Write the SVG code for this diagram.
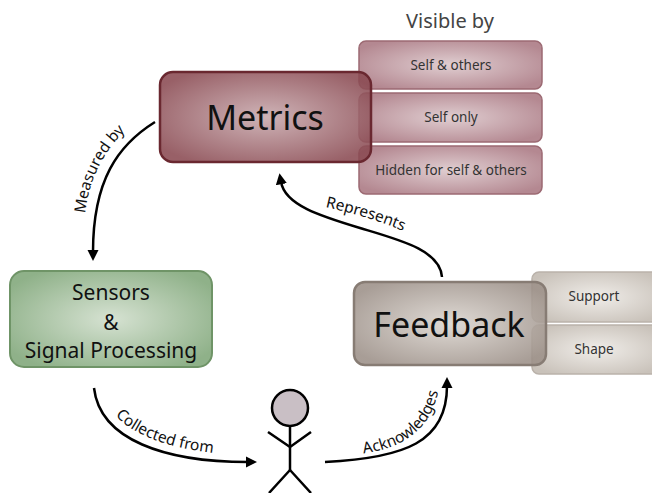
<svg xmlns="http://www.w3.org/2000/svg" width="652" height="493" viewBox="0 0 652 493">
<defs>
<radialGradient id="gM" cx="50%" cy="50%" r="60%"><stop offset="0" stop-color="#c8a9ad"/><stop offset="1" stop-color="#8a4a52"/></radialGradient>
<radialGradient id="gV" cx="50%" cy="50%" r="60%"><stop offset="0" stop-color="#e0ced1"/><stop offset="1" stop-color="#b48891"/></radialGradient>
<radialGradient id="gS" cx="50%" cy="50%" r="60%"><stop offset="0" stop-color="#d6e2d2"/><stop offset="1" stop-color="#8fb189"/></radialGradient>
<radialGradient id="gF" cx="50%" cy="50%" r="60%"><stop offset="0" stop-color="#dbd5cf"/><stop offset="1" stop-color="#9c9088"/></radialGradient>
<radialGradient id="gP" cx="50%" cy="50%" r="60%"><stop offset="0" stop-color="#f0ede9"/><stop offset="1" stop-color="#c9c2ba"/></radialGradient>
<marker id="ah" viewBox="0 0 10 10" refX="2" refY="5" markerWidth="4.5" markerHeight="4.5" orient="auto" markerUnits="strokeWidth"><path d="M0,0 L10,5 L0,10 z" fill="#000"/></marker>
<path id="tpMeasured" d="M84,236 C84,180 105,145 142,116"/>
<path id="tpRep" d="M316,205 C348,212 380,220 412,235"/>
<path id="tpCol" d="M104,398 C118,432 165,450 234,455"/>
<path id="tpAck" d="M350,455 C405,451 436,428 440,378"/>
</defs>
<style>
text{font-family:"Noto Sans","Open Sans",sans-serif;fill:#111}
.big{font-size:34px;text-anchor:middle}
.mid{font-size:21px;text-anchor:middle}
.sm{font-size:13.5px;text-anchor:middle;fill:#333}
.lbl{font-size:15.5px}
.conn{fill:none;stroke:#000;stroke-width:2.5}
</style>
<g id="visible-by">
<text x="450" y="28" style="font-size:20px;text-anchor:middle;fill:#444">Visible by</text>
<rect x="359" y="41" width="183" height="48" rx="7" fill="url(#gV)" stroke="#9c6a73" stroke-width="1.5"/>
<text class="sm" x="451" y="70">Self &amp; others</text>
<rect x="359" y="93" width="183" height="49" rx="7" fill="url(#gV)" stroke="#9c6a73" stroke-width="1.5"/>
<text class="sm" x="451" y="122">Self only</text>
<rect x="359" y="146" width="183" height="48" rx="7" fill="url(#gV)" stroke="#9c6a73" stroke-width="1.5"/>
<text class="sm" x="451" y="175">Hidden for self &amp; others</text>
</g>
<g id="metrics">
<rect x="160" y="72" width="211" height="90" rx="13" fill="url(#gM)" fill-opacity="0.88" stroke="#6a2830" stroke-width="2.5"/>
<text class="big" x="265" y="130">Metrics</text>
</g>
<g id="sensors">
<rect x="10" y="271" width="202" height="96" rx="14" fill="url(#gS)" stroke="#6f9467" stroke-width="2"/>
<text class="mid" x="111" y="300">Sensors</text>
<text class="mid" x="111" y="330">&amp;</text>
<text class="mid" x="111" y="358">Signal Processing</text>
</g>
<g id="feedback-types">
<rect x="532" y="272" width="130" height="50" rx="7" fill="url(#gP)" stroke="#bab2aa" stroke-width="1.5"/>
<text class="sm" x="594" y="301">Support</text>
<rect x="532" y="325" width="130" height="49" rx="7" fill="url(#gP)" stroke="#bab2aa" stroke-width="1.5"/>
<text class="sm" x="594" y="354">Shape</text>
</g>
<g id="feedback">
<rect x="354" y="282" width="192" height="83" rx="11" fill="url(#gF)" fill-opacity="0.88" stroke="#877c74" stroke-width="2.5"/>
<text class="big" x="449" y="337">Feedback</text>
</g>
<g id="person" fill="none" stroke="#000" stroke-width="2.5">
<circle cx="290" cy="408" r="18" fill="#c9bfc5"/>
<line x1="290" y1="426" x2="290" y2="470"/>
<polyline points="268,432 290,447 311,432"/>
<polyline points="269,493 290,470 311,493"/>
</g>
<g id="connectors">
<path class="conn" d="M155,122 C118,145 93,180 93,252" marker-end="url(#ah)"/>
<path class="conn" d="M442,277 C440,250 400,240 360,228 C320,216 285,205 281,182" marker-end="url(#ah)"/>
<path class="conn" d="M94,388 C100,440 165,462 248,462" marker-end="url(#ah)"/>
<path class="conn" d="M325,462 C405,458 447,442 447,386" marker-end="url(#ah)"/>
<text class="lbl"><textPath href="#tpMeasured" startOffset="50%" text-anchor="middle">Measured by</textPath></text>
<text class="lbl"><textPath href="#tpRep" startOffset="50%" text-anchor="middle">Represents</textPath></text>
<text class="lbl"><textPath href="#tpCol" startOffset="50%" text-anchor="middle">Collected from</textPath></text>
<text class="lbl"><textPath href="#tpAck" startOffset="50%" text-anchor="middle">Acknowledges</textPath></text>
</g>
</svg>
